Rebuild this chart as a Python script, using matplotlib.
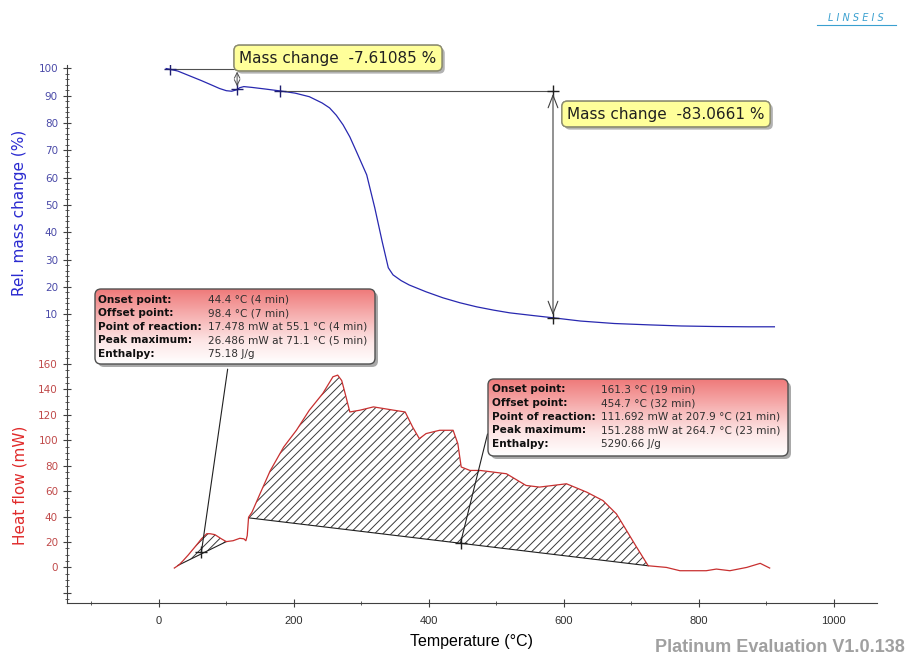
import numpy as np
import matplotlib
matplotlib.use('Agg')
import matplotlib.pyplot as plt
import matplotlib.patheffects as pe
from matplotlib.patches import FancyBboxPatch
from matplotlib.colors import LinearSegmentedColormap
from matplotlib.ticker import MultipleLocator, FixedLocator, FuncFormatter

# TG curve (relative mass change)
temp_mass = [11, 17, 28, 48, 63, 78, 90, 100, 108, 115, 120, 126, 138, 158, 180, 202,
             223, 242, 253, 263, 273, 283, 293, 308, 320, 331, 340, 347, 359, 371, 396,
             421, 446, 471, 496, 520, 555, 584, 625, 675, 727, 774, 824, 874, 912]
mass = [99.9, 99.6, 99.0, 97.0, 95.5, 93.9, 92.6, 91.8, 91.6, 92.1, 92.9, 93.3, 93.0,
        92.4, 91.7, 90.9, 89.6, 87.3, 85.5, 82.8, 79.3, 74.9, 69.4, 61.0, 48.9, 36.5,
        27.0, 24.4, 22.3, 20.7, 18.2, 16.0, 14.2, 12.7, 11.5, 10.5, 9.5, 8.7, 7.5, 6.6,
        6.1, 5.7, 5.5, 5.4, 5.4]

# DSC curve (heat flow)
temp_hf = [23, 30, 36, 44, 51, 58, 63, 71, 76, 83, 93, 100, 110, 120, 126, 129, 131,
           133, 138, 150, 165, 185, 204, 223, 243, 258, 265, 271, 276, 283, 298, 318,
           348, 365, 376, 386, 396, 416, 436, 443, 448, 461, 476, 515, 544, 564, 604,
           634, 658, 678, 693, 708, 725, 752, 772, 811, 826, 846, 871, 891, 905]
heat_flow = [-0.5, 2, 5.3, 10, 14.5, 19, 22.4, 26.5, 26.5, 25.8, 22.4, 20.3, 21, 22.9,
             22.5, 21, 25, 39.5, 43.4, 58, 76, 94.7, 108, 123.7, 136.9, 150, 151.3, 147,
             137, 122.3, 123.7, 126.3, 123.7, 122.3, 110.5, 101.3, 105.3, 107.9, 107.9,
             97.4, 79, 76.3, 76.3, 73.7, 64.5, 63.2, 65.8, 59.2, 52.6, 42.1, 29, 15.8,
             1.3, 0, -2.6, -2.6, -1.3, -2.6, 0, 3.2, -0.5]

# integration baselines and evaluation markers
peak1_base_t = [28, 100]
peak1_base_hf = [1.5, 20.3]
peak1_mark = (63, 11.8)
peak2_base_t = [133, 725]
peak2_base_hf = [39.0, 1.3]
peak2_mark = (447, 19.2)

step1_t = [17, 116]
step1_mass = [99.8, 92.4]
step2_t = [180, 584]
step2_mass = [91.7, 8.6]

mass_labels = ["Mass change  -7.61085 %", "Mass change  -83.0661 %"]
peak1_rows = [("Onset point:", "44.4 °C (4 min)"),
              ("Offset point:", "98.4 °C (7 min)"),
              ("Point of reaction:", "17.478 mW at 55.1 °C (4 min)"),
              ("Peak maximum:", "26.486 mW at 71.1 °C (5 min)"),
              ("Enthalpy:", "75.18 J/g")]
peak2_rows = [("Onset point:", "161.3 °C (19 min)"),
              ("Offset point:", "454.7 °C (32 min)"),
              ("Point of reaction:", "111.692 mW at 207.9 °C (21 min)"),
              ("Peak maximum:", "151.288 mW at 264.7 °C (23 min)"),
              ("Enthalpy:", "5290.66 J/g")]

W, H = 908, 659
narrow = ['Liberation Sans', 'DejaVu Sans']

plt.rcParams['hatch.linewidth'] = 0.7
fig = plt.figure(figsize=(W / 100, H / 100), dpi=100)
ax_top = fig.add_axes([67 / W, 1 - 338 / H, 810 / W, 273 / H])
ax_bot = fig.add_axes([67 / W, 1 - 603 / H, 810 / W, 265 / H], sharex=ax_top)

for ax in (ax_top, ax_bot):
    for s in ('top', 'right'):
        ax.spines[s].set_visible(False)
    ax.spines['left'].set_color('#404040')
    ax.spines['bottom'].set_color('#404040')
    ax.tick_params(which='both', direction='inout', colors='#404040', labelsize=7.5)
    ax.tick_params(which='major', length=6)
    ax.tick_params(which='minor', length=3)

ax_top.spines['bottom'].set_visible(False)
ax_top.tick_params(axis='x', which='both', bottom=False, labelbottom=False)

ax_bot.set_xlim(-136, 1064)
ax_bot.xaxis.set_major_locator(MultipleLocator(200))
ax_bot.xaxis.set_minor_locator(MultipleLocator(100))
ax_bot.tick_params(axis='x', pad=6)
for lab in ax_bot.get_xticklabels():
    lab.set_family(narrow)
    lab.set_fontsize(8)
    lab.set_color('#303030')
ax_bot.set_xlabel('Temperature (°C)', family=narrow, fontsize=11.5, labelpad=6)

# --- TG panel
ax_top.set_ylim(1.3, 101.2)
ax_top.yaxis.set_major_locator(FixedLocator(range(10, 101, 10)))
ax_top.yaxis.set_minor_locator(MultipleLocator(2))
ax_top.tick_params(axis='y', labelcolor='#4a4aa8')
ax_top.plot(temp_mass, mass, color='#2828b0', lw=0.9)

ax_top.plot(step1_t, [step1_mass[0]] * 2, color='#505050', lw=0.8)
ax_top.annotate('', xy=(step1_t[1], step1_mass[1]), xytext=(step1_t[1], step1_mass[0]),
                arrowprops=dict(arrowstyle='<->', color='#505050', lw=0.7))
ax_top.plot(step2_t, [step2_mass[0]] * 2, color='#505050', lw=0.8)
ax_top.annotate('', xy=(step2_t[1], step2_mass[1]), xytext=(step2_t[1], step2_mass[0]),
                arrowprops=dict(arrowstyle='<->,head_length=0.9,head_width=0.35',
                                color='#404040', lw=0.8))
ax_top.plot([step1_t[0], step1_t[1], step2_t[0]], [step1_mass[0], step1_mass[1], step2_mass[0]],
            ls='none', marker='+', ms=9, mew=1.0, color='#202070')
ax_top.plot([step2_t[1]] * 2, [step2_mass[0], step2_mass[1]], ls='none', marker='+',
            ms=9, mew=1.0, color='#202020')

# --- DSC panel
ax_bot.set_ylim(-28, 180.5)
ax_bot.yaxis.set_major_locator(FixedLocator(range(-20, 161, 20)))
ax_bot.yaxis.set_minor_locator(MultipleLocator(5))
ax_bot.yaxis.set_major_formatter(FuncFormatter(lambda v, p: '' if v < 0 else '%d' % v))
ax_bot.tick_params(axis='y', labelcolor='#c04a4a')

t_arr = np.array(temp_hf)
hf_arr = np.array(heat_flow)
for bt, bh in ((peak1_base_t, peak1_base_hf), (peak2_base_t, peak2_base_hf)):
    sel = (t_arr > bt[0]) & (t_arr < bt[1])
    xs = [bt[0]] + list(t_arr[sel]) + [bt[1]]
    ys = [bh[0]] + list(hf_arr[sel]) + [bh[1]]
    ax_bot.fill(xs, ys, facecolor='none', edgecolor='#383838', hatch='////', lw=0)
    ax_bot.plot(bt, bh, color='#202020', lw=0.8)

ax_bot.plot(temp_hf, heat_flow, color='#c83030', lw=0.9)
for mk in (peak1_mark, peak2_mark):
    ax_bot.plot(*mk, marker='+', ms=9, mew=1.0, color='#202020')

ax_bot.annotate('', xy=peak1_mark, xytext=(102, 156),
                arrowprops=dict(arrowstyle='-', color='#202020', lw=0.8, shrinkA=0, shrinkB=0))
ax_bot.annotate('', xy=peak2_mark, xytext=(487, 105),
                arrowprops=dict(arrowstyle='-', color='#202020', lw=0.8, shrinkA=0, shrinkB=0))

# axis titles
fig.text(20 / W, 1 - 213 / H, 'Rel. mass change (%)', rotation=90, ha='center', va='center',
         fontsize=11, color='#2a2ad0')
fig.text(20 / W, 1 - 485 / H, 'Heat flow (mW)', rotation=90, ha='center', va='center',
         fontsize=11, color='#e02a2a')

# mass change labels
for (cx, cy), txt in zip([(338, 58), (666, 114)], mass_labels):
    t = fig.text(cx / W, 1 - cy / H, txt, ha='center', va='center', fontsize=11, color='#202020',
                 bbox=dict(boxstyle='round,pad=0.35,rounding_size=0.35', fc='#ffff9a',
                           ec='#8c8c70', lw=1.0))
    t.get_bbox_patch().set_path_effects([
        pe.withSimplePatchShadow(offset=(2, -2), shadow_rgbFace='#808080', alpha=0.6),
        pe.Normal()])

# peak evaluation boxes
grad_cmap = LinearSegmentedColormap.from_list(
    'pink', [(0, '#ffffff'), (0.3, '#fde6e6'), (1, '#ef7a7a')])


def info_box(px_rect, rows, value_x):
    x0, y0, x1, y1 = px_rect
    w_px, h_px = x1 - x0, y1 - y0
    bax = fig.add_axes([x0 / W, 1 - y1 / H, w_px / W, h_px / H])
    bax.set_xlim(0, 1)
    bax.set_ylim(0, 1)
    bax.axis('off')
    r = 6 / w_px
    style = 'round,pad=0,rounding_size=%f' % r
    shadow = FancyBboxPatch((3 / w_px, -3 / h_px), 1, 1, boxstyle=style,
                            mutation_aspect=w_px / h_px, fc='#707070', ec='none',
                            alpha=0.6, clip_on=False, zorder=-1)
    bax.add_patch(shadow)
    frame = FancyBboxPatch((0, 0), 1, 1, boxstyle=style, mutation_aspect=w_px / h_px,
                           fc='none', ec='#505050', lw=1.0, clip_on=False, zorder=3)
    bax.add_patch(frame)
    grad = np.linspace(0, 1, 256).reshape(-1, 1)
    im = bax.imshow(grad, extent=[0, 1, 0, 1], origin='lower', cmap=grad_cmap,
                    aspect='auto', interpolation='bilinear', zorder=1)
    im.set_clip_path(frame)
    for i, (lab, val) in enumerate(rows):
        yy = 1 - (10.5 + i * 13.6) / h_px
        bax.text(0.012, yy, lab, fontsize=7.6, fontweight='bold', va='center', color='#101010',
                 zorder=4)
        bax.text(value_x, yy, val, fontsize=7.6, va='center', color='#303030', zorder=4)


info_box((95, 289, 375, 364), peak1_rows, 113 / 280)
info_box((488, 379, 788, 456), peak2_rows, 113 / 300)

# branding
fig.text(856 / W, 1 - 18 / H, 'L I N S E I S', ha='center', va='center', fontsize=7,
         style='italic', color='#3aa0d0')
fig.add_artist(plt.Line2D([817 / W, 896 / W], [1 - 25 / H] * 2, color='#3aa0d0', lw=0.8))
fig.text(905 / W, 1 - 648 / H, 'Platinum Evaluation V1.0.138', ha='right', va='center',
         fontsize=13, fontweight='bold', family=narrow, color='#a0a0a0')

fig.savefig('out.png', dpi=100)
